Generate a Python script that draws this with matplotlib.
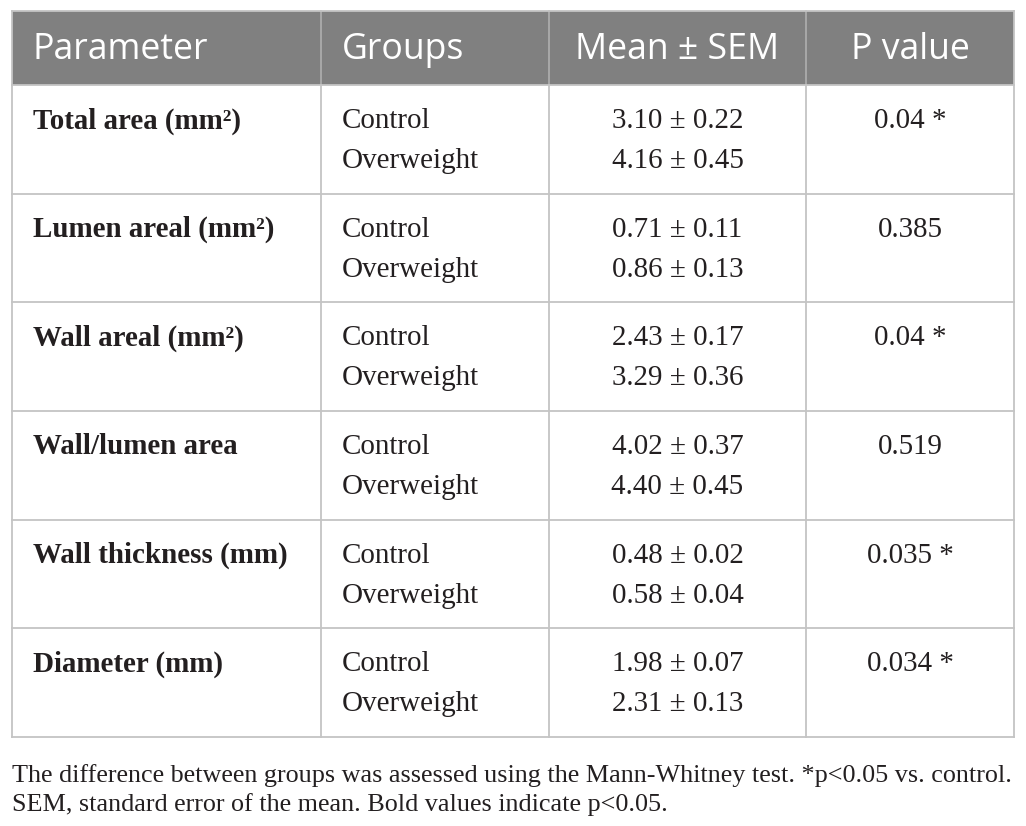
import matplotlib
matplotlib.use("Agg")
import matplotlib.pyplot as plt
from matplotlib.patches import Rectangle

# ---- data ----
headers = ["Parameter", "Groups", "Mean \u00b1 SEM", "P value"]
parameters = ["Total area (mm\u00b2)", "Lumen areal (mm\u00b2)", "Wall areal (mm\u00b2)",
              "Wall/lumen area", "Wall thickness (mm)", "Diameter (mm)"]
groups = ["Control", "Overweight"]
control_mean = ["3.10 \u00b1 0.22", "0.71 \u00b1 0.11", "2.43 \u00b1 0.17",
                "4.02 \u00b1 0.37", "0.48 \u00b1 0.02", "1.98 \u00b1 0.07"]
overweight_mean = ["4.16 \u00b1 0.45", "0.86 \u00b1 0.13", "3.29 \u00b1 0.36",
                   "4.40 \u00b1 0.45", "0.58 \u00b1 0.04", "2.31 \u00b1 0.13"]
p_values = ["0.04 *", "0.385", "0.04 *", "0.519", "0.035 *", "0.034 *"]
footnote = ["The difference between groups was assessed using the Mann-Whitney test. *p<0.05 vs. control.",
            "SEM, standard error of the mean. Bold values indicate p<0.05."]

# ---- layout (pixels) ----
W, H = 1026, 826
fig = plt.figure(figsize=(W / 100, H / 100), dpi=100)
ax = fig.add_axes([0, 0, 1, 1])
ax.set_xlim(0, W)
ax.set_ylim(H, 0)
ax.axis("off")

col_x = [12, 321, 549, 806, 1014]
top, head_bot = 11, 85
row_h = (737 - 85) / len(parameters)
line_c = "#c4c4c4"
head_c = "#808080"
serif = "Liberation Serif"
sans = "Open Sans"
txt_c = "#231f20"
hfs = 25.7
bfs = 20.9

ax.add_patch(Rectangle((col_x[0], top), col_x[-1] - col_x[0], head_bot - top,
                       facecolor=head_c, edgecolor="none"))
for x in col_x[1:-1]:
    ax.plot([x, x], [top, head_bot], color="#b0b0b0", lw=1.2)

hy = (top + head_bot) / 2 + 2
ax.text(33, hy, headers[0], color="white", family=sans, fontsize=hfs, va="center", ha="left")
ax.text(342, hy, headers[1], color="white", family=sans, fontsize=hfs, va="center", ha="left")
ax.text((col_x[2] + col_x[3]) / 2, hy, headers[2], color="white", family=sans, fontsize=hfs,
        va="center", ha="center")
ax.text((col_x[3] + col_x[4]) / 2, hy, headers[3], color="white", family=sans, fontsize=hfs,
        va="center", ha="center")

bottom = head_bot + row_h * len(parameters)
for i, (par, cm, om, pv) in enumerate(zip(parameters, control_mean, overweight_mean, p_values)):
    rt = head_bot + i * row_h
    y1 = rt + 36
    y2 = rt + 76
    ax.text(33, y1, par, family=serif, fontsize=bfs, fontweight="bold", color=txt_c,
            va="center", ha="left")
    ax.text(342, y1, groups[0], family=serif, fontsize=bfs, color=txt_c, va="center", ha="left")
    ax.text(342, y2, groups[1], family=serif, fontsize=bfs, color=txt_c, va="center", ha="left")
    cx = (col_x[2] + col_x[3]) / 2
    ax.text(cx, y1, cm, family=serif, fontsize=bfs, color=txt_c, va="center", ha="center")
    ax.text(cx, y2, om, family=serif, fontsize=bfs, color=txt_c, va="center", ha="center")
    ax.text((col_x[3] + col_x[4]) / 2, y1, pv, family=serif, fontsize=bfs, color=txt_c,
            va="center", ha="center")
    if i > 0:
        ax.plot([col_x[0], col_x[-1]], [rt, rt], color=line_c, lw=1.3)

for x in col_x:
    ax.plot([x, x], [head_bot, bottom], color=line_c, lw=1.3)
ax.plot([col_x[0], col_x[-1]], [bottom, bottom], color=line_c, lw=1.3)
ax.plot([col_x[0], col_x[-1]], [head_bot, head_bot], color=line_c, lw=1.3)
ax.plot([col_x[0], col_x[-1]], [top, top], color=line_c, lw=1.3)
for x in (col_x[0], col_x[-1]):
    ax.plot([x, x], [top, head_bot], color=line_c, lw=1.3)

for j, line in enumerate(footnote):
    ax.text(12, 776 + j * 28.5, line, family=serif, fontsize=18.8, color=txt_c,
            va="center", ha="left")

fig.savefig("out.png", dpi=100)
